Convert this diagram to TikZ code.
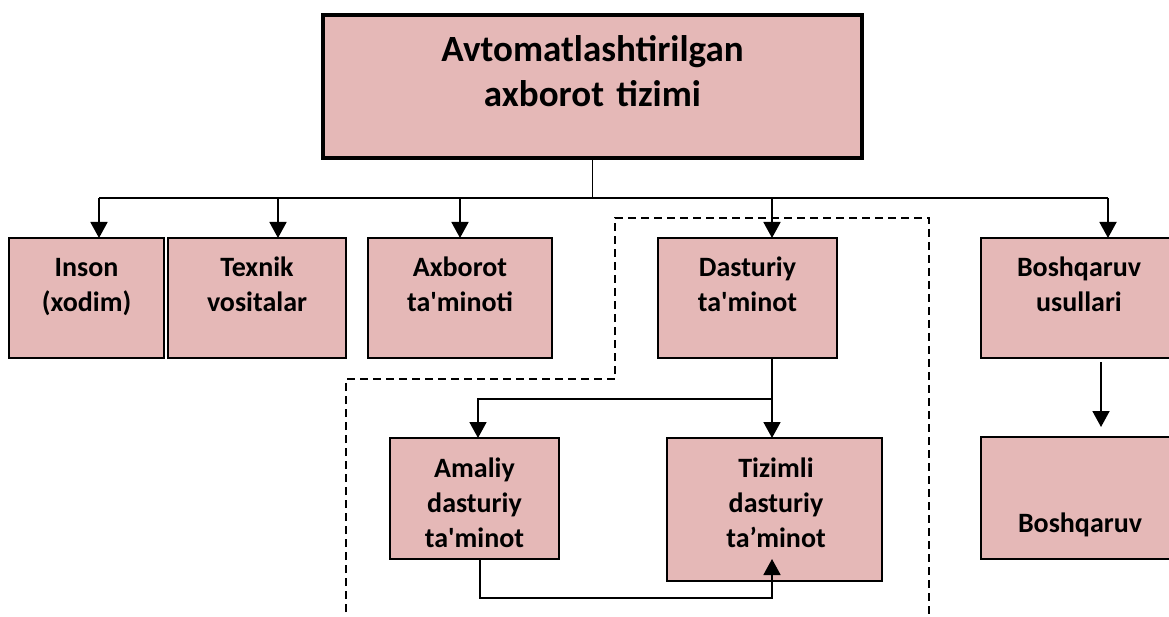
\documentclass[tikz,border=0pt]{standalone}
\usepackage{fontspec}
\setmainfont{Carlito}[Ligatures=TeXOff]
\usetikzlibrary{arrows.meta,calc}
\definecolor{boxpink}{HTML}{E5B8B7}
\begin{document}
\begin{tikzpicture}[x=1pt,y=-1pt,
  box/.style={draw=black,fill=boxpink,line width=1.8pt,inner sep=0pt,outer sep=0pt},
  txt/.style={font=\fontsize{28}{35}\selectfont\bfseries,align=center,inner sep=0pt,anchor=base},
  conn/.style={line width=1.8pt},
  arr/.style={line width=1.8pt,-{Triangle[length=16pt,width=17pt]}},
  dashbox/.style={line width=1.6pt,dash pattern=on 8pt off 5pt}]
\useasboundingbox (0,0) rectangle (1169,617);
% boxes
\node[box,line width=4pt,minimum width=539pt,minimum height=143pt] (top) at (592.5,86.5) {};
\node[box,minimum width=155pt,minimum height=120pt] (inson) at (86.5,298) {};
\node[box,minimum width=178pt,minimum height=120pt] (texnik) at (257,298) {};
\node[box,minimum width=184pt,minimum height=120pt] (axborot) at (460,298) {};
\node[box,minimum width=179pt,minimum height=120pt] (dast) at (747.5,298) {};
\node[box,minimum width=196pt,minimum height=120pt] (bosh) at (1079,298) {};
\node[box,minimum width=169pt,minimum height=121pt] (amaliy) at (474.5,498.5) {};
\node[box,minimum width=215pt,minimum height=143pt] (tiz) at (774.5,509.5) {};
\node[box,minimum width=196pt,minimum height=122pt] (bosh2) at (1079,498) {};
% texts
\node[txt,font=\fontsize{37}{45}\selectfont\bfseries,text width=520pt] (ttop) at (592.5,62) {Avtomatlashtirilgan\\axborot tizimi};
\node[txt,text width=150pt] (tinson) at (86.5,277) {Inson\\(xodim)};
\node[txt,text width=170pt] (ttexnik) at (257,277) {Texnik\\vositalar};
\node[txt,text width=180pt] (taxborot) at (460,277) {Axborot\\ta'minoti};
\node[txt,text width=175pt] (tdast) at (747.5,277) {Dasturiy\\ta'minot};
\node[txt,text width=190pt] (tbosh) at (1079,277) {Boshqaruv\\usullari};
\node[txt,text width=165pt] (tamaliy) at (474.5,477) {Amaliy\\dasturiy\\ta'minot};
\node[txt,text width=210pt] (ttiz) at (776,477) {Tizimli\\dasturiy\\ta’minot};
\node[txt,text width=190pt] (tbosh2) at (1080,532) {Boshqaruv};
% dashed outline
\draw[dashbox] (346,625) -- (346,379) -- (615,379) -- (615,218) -- (929,218) -- (929,625);
% connectors
\coordinate (bus) at (0,198);
\coordinate (ia) at ($(inson.north)+(12.5,0)$);
\coordinate (ta) at ($(texnik.north)+(21,0)$);
\coordinate (aa) at ($(axborot.north)+(0,0)$);
\coordinate (da) at ($(dast.north)+(24.5,0)$);
\coordinate (ba) at ($(bosh.north)+(29,0)$);
\draw[line width=1.4pt] (top.south) -- (top.south |- bus);
\draw[conn] (ia |- bus) -- (ba |- bus);
\draw[arr] (ia |- bus) -- (ia);
\draw[arr] (ta |- bus) -- (ta);
\draw[arr] (aa |- bus) -- (aa);
\draw[arr] (da |- bus) -- (da);
\draw[arr] (ba |- bus) -- (ba);
% software branch
\coordinate (dx) at ($(dast.south)+(24.5,0)$);
\coordinate (split) at ($(dx)+(0,41)$);
\coordinate (am) at ($(amaliy.north)+(3.5,0)$);
\draw[arr] (dx) -- (dx |- tiz.north);
\draw[arr] (split) -| (am);
\coordinate (amb) at ($(amaliy.south)+(5.5,0)$);
\coordinate (tizin) at ($(tiz.south)+(-2.5,-22)$);
\draw[arr] (amb) |- ($(tizin)+(0,39)$) -- (tizin);
% management
\coordinate (bs) at ($(bosh.south)+(22,4)$);
\coordinate (bt) at ($(bosh2.north)+(22,-10)$);
\draw[arr] (bs) -- (bt);
\end{tikzpicture}
\end{document}
